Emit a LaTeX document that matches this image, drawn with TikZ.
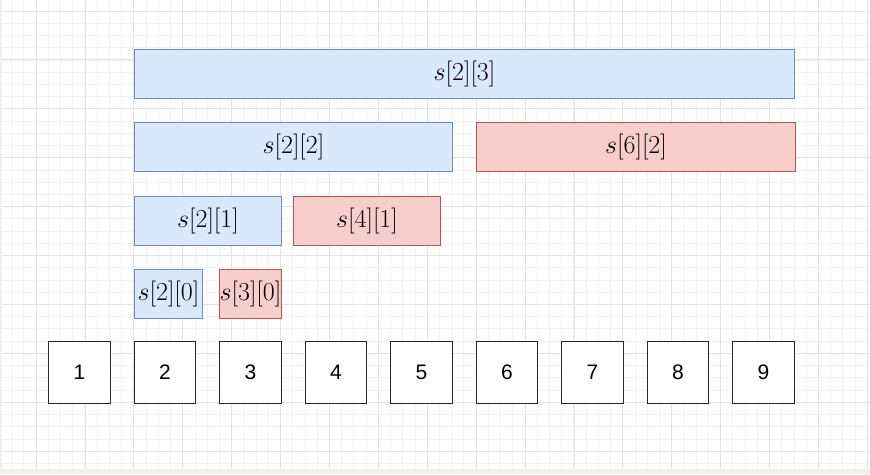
\documentclass[tikz,border=0pt]{standalone}
\usepackage{fix-cm}
\usepackage{fontspec}
\newfontfamily\numfont{Liberation Sans}
\usetikzlibrary{positioning}
\definecolor{segblue}{HTML}{DAE8FC}
\definecolor{segbluedraw}{HTML}{6C8EBF}
\definecolor{segred}{HTML}{F8CECC}
\definecolor{segreddraw}{HTML}{B85450}
\definecolor{gridminor}{RGB}{243,243,243}
\definecolor{gridmajor}{RGB}{226,226,226}
\definecolor{pagebg}{RGB}{240,240,235}

\begin{document}
\begin{tikzpicture}[
    x=1pt, y=-1pt,
    node distance=24pt,
    cell/.style={rectangle, draw=black!85, line width=1.1pt, outer sep=0pt, fill=white, minimum width=61.5pt, minimum height=61.5pt, inner sep=0pt, font=\numfont\fontsize{21}{25}\selectfont},
    seg/.style={rectangle, line width=1.1pt, minimum height=49pt, inner sep=0pt, anchor=north west, font=\fontsize{26}{30}\selectfont},
    blueseg/.style={seg, fill=segblue, draw=segbluedraw},
    redseg/.style={seg, fill=segred, draw=segreddraw},
    minorline/.style={draw=gridminor, line width=0.8pt},
    majorline/.style={draw=gridmajor, line width=0.8pt}
]
\useasboundingbox (0,0) rectangle (870,474);

% background grid
\fill[pagebg] (0,0) rectangle (870,474);
\fill[white] (2,0) rectangle (870,469);
\begin{scope}
\clip (2,0) rectangle (870,469);
\foreach \k in {0,...,72} \draw[minorline] ({-0.7+12.225*\k},0) -- ++(0,469);
\foreach \k in {0,...,39} \draw[minorline] (0,{-1.2+12.225*\k}) -- ++(870,0);
\foreach \k in {0,...,18} \draw[majorline] ({-12.9+48.9*\k},0) -- ++(0,469);
\foreach \k in {0,...,9} \draw[majorline] (0,{10.9+48.9*\k}) -- ++(870,0);
\end{scope}

% the array
\node[cell] (n1) at (79.5,372.5) {1};
\node[cell, right=of n1] (n2) {2};
\node[cell, right=of n2] (n3) {3};
\node[cell, right=of n3] (n4) {4};
\node[cell, right=of n4] (n5) {5};
\node[cell, right=of n5] (n6) {6};
\node[cell, right=of n6] (n7) {7};
\node[cell, right=of n7] (n8) {8};
\node[cell, right=of n8] (n9) {9};

% sparse table entries
\node[blueseg, minimum width=68pt] (s20) at (134,269) {$s[2][0]$};
\node[redseg, minimum width=62pt] (s30) at (219,269) {$s[3][0]$};
\node[blueseg, minimum width=147pt] (s21) at (134,196) {$s[2][1]$};
\node[redseg, minimum width=147pt] (s41) at (293,196) {$s[4][1]$};
\node[blueseg, minimum width=318pt] (s22) at (134,122) {$s[2][2]$};
\node[redseg, minimum width=319pt] (s62) at (476,122) {$s[6][2]$};
\node[blueseg, minimum width=660pt] (s23) at (134,49) {$s[2][3]$};

\end{tikzpicture}
\end{document}
